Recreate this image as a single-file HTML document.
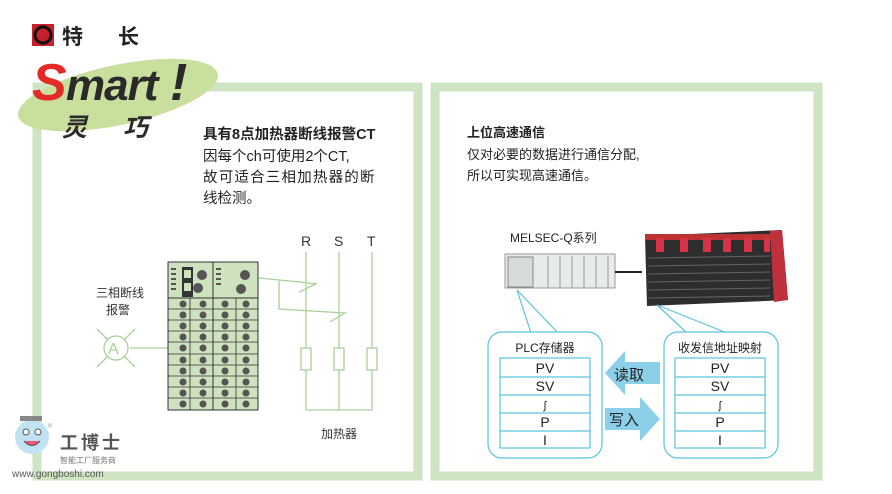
<!DOCTYPE html><html><head><meta charset="utf-8"><style>
body{margin:0;width:892px;height:494px;background:#fff;overflow:hidden;font-family:"Liberation Sans","Noto Sans CJK SC",sans-serif;}
svg{position:absolute;left:0;top:0}
</style></head><body>
<svg width="892" height="494" viewBox="0 0 892 494" font-family="Liberation Sans, Noto Sans CJK SC, sans-serif">
<rect x="37" y="87" width="381" height="389" fill="none" stroke="#cfe4c3" stroke-width="9"/>
<rect x="435" y="87" width="383" height="389" fill="none" stroke="#cfe4c3" stroke-width="9"/>
<rect x="32" y="24" width="22" height="22" fill="#c8202a"/>
<circle cx="43" cy="35" r="8" fill="none" stroke="#111" stroke-width="3"/>
<text x="62" y="44" font-size="21" font-weight="bold" fill="#222">特</text>
<text x="118" y="44" font-size="21" font-weight="bold" fill="#222">长</text>
<ellipse cx="118" cy="95" rx="102" ry="30" transform="rotate(-12 118 95)" fill="#c9df9e"/>
<text x="32" y="100" font-size="52" font-weight="bold" font-style="italic" fill="#e32a26" letter-spacing="-2">S</text>
<text x="66" y="100" font-size="44" font-weight="bold" font-style="italic" fill="#2a2a2a" letter-spacing="-1">mart</text>
<text x="170" y="100" font-size="52" font-weight="bold" font-style="italic" fill="#2a2a2a">!</text>
<text x="62" y="136" font-size="25" font-weight="bold" font-style="italic" fill="#2a2a2a">灵</text>
<text x="123" y="136" font-size="25" font-weight="bold" font-style="italic" fill="#2a2a2a">巧</text>
<text x="203" y="139" font-size="14.5" font-weight="bold" fill="#222">具有8点加热器断线报警CT</text>
<text x="203" y="161" font-size="14.5" fill="#222">因每个ch可使用2个CT,</text>
<text x="203" y="182" font-size="14.5" fill="#222" letter-spacing="1.2">故可适合三相加热器的断</text>
<text x="203" y="203" font-size="14.5" fill="#222">线检测。</text>
<g font-size="14" fill="#333"><text x="301" y="246">R</text><text x="334" y="246">S</text><text x="367" y="246">T</text></g>
<g stroke="#a9d09a" stroke-width="1.3" fill="none">
<line x1="306" y1="252" x2="306" y2="410"/><line x1="339" y1="252" x2="339" y2="410"/><line x1="372" y1="252" x2="372" y2="410"/>
<line x1="306" y1="410" x2="372" y2="410"/>
<rect x="301" y="348" width="10" height="22" fill="#fff"/><rect x="334" y="348" width="10" height="22" fill="#fff"/><rect x="367" y="348" width="10" height="22" fill="#fff"/>
<polyline points="258,278 300,282 316,284 299,292"/>
<polyline points="279,281 279,309 345,313 330,322"/>
<line x1="130" y1="348" x2="168" y2="348"/>
<circle cx="116" cy="348" r="12" fill="#fff"/>
<line x1="97" y1="329" x2="107" y2="339"/><line x1="135" y1="329" x2="125" y2="339"/><line x1="97" y1="367" x2="107" y2="357"/><line x1="135" y1="367" x2="125" y2="357"/>
</g>
<text x="108" y="354" font-size="16" fill="#a9d09a">A</text>
<text x="96" y="297" font-size="12" fill="#333">三相断线</text>
<text x="106" y="314" font-size="12" fill="#333">报警</text>
<text x="321" y="438" font-size="12" fill="#333">加热器</text>
<rect x="168" y="262" width="90" height="148" fill="#cfe2c0" stroke="#333"/>
<line x1="213" y1="262" x2="213" y2="410" stroke="#333"/>
<line x1="168" y1="298" x2="258" y2="298" stroke="#333"/>
<rect x="182" y="267" width="11" height="30" fill="#333"/>
<g fill="#cfe2c0"><rect x="184" y="270" width="7" height="8"/><rect x="184" y="283" width="7" height="8"/></g>
<g fill="#555"><circle cx="202" cy="275" r="5"/><circle cx="198" cy="288" r="5"/><circle cx="245" cy="275" r="5"/><circle cx="241" cy="289" r="5"/>
<rect x="171" y="268" width="5" height="2"/><rect x="171" y="273" width="5" height="2"/><rect x="171" y="278" width="5" height="2"/><rect x="171" y="283" width="5" height="2"/><rect x="171" y="288" width="5" height="2"/>
<rect x="216" y="268" width="5" height="2"/><rect x="216" y="273" width="5" height="2"/><rect x="216" y="278" width="5" height="2"/><rect x="216" y="283" width="5" height="2"/></g>
<g stroke="#333" stroke-width="0.8">
<line x1="168" y1="309" x2="258" y2="309"/><line x1="168" y1="320" x2="258" y2="320"/><line x1="168" y1="331" x2="258" y2="331"/><line x1="168" y1="342" x2="258" y2="342"/><line x1="168" y1="354" x2="258" y2="354"/><line x1="168" y1="365" x2="258" y2="365"/><line x1="168" y1="376" x2="258" y2="376"/><line x1="168" y1="387" x2="258" y2="387"/><line x1="168" y1="398" x2="258" y2="398"/>
<line x1="190" y1="298" x2="190" y2="410"/><line x1="236" y1="298" x2="236" y2="410"/>
</g>
<g fill="#555">
<circle cx="183" cy="304" r="3.5"/><circle cx="203" cy="304" r="3.5"/><circle cx="225" cy="304" r="3.5"/><circle cx="246" cy="304" r="3.5"/>
<circle cx="183" cy="315" r="3.5"/><circle cx="203" cy="315" r="3.5"/><circle cx="225" cy="315" r="3.5"/><circle cx="246" cy="315" r="3.5"/>
<circle cx="183" cy="326" r="3.5"/><circle cx="203" cy="326" r="3.5"/><circle cx="225" cy="326" r="3.5"/><circle cx="246" cy="326" r="3.5"/>
<circle cx="183" cy="337" r="3.5"/><circle cx="203" cy="337" r="3.5"/><circle cx="225" cy="337" r="3.5"/><circle cx="246" cy="337" r="3.5"/>
<circle cx="183" cy="348" r="3.5"/><circle cx="203" cy="348" r="3.5"/><circle cx="225" cy="348" r="3.5"/><circle cx="246" cy="348" r="3.5"/>
<circle cx="183" cy="360" r="3.5"/><circle cx="203" cy="360" r="3.5"/><circle cx="225" cy="360" r="3.5"/><circle cx="246" cy="360" r="3.5"/>
<circle cx="183" cy="371" r="3.5"/><circle cx="203" cy="371" r="3.5"/><circle cx="225" cy="371" r="3.5"/><circle cx="246" cy="371" r="3.5"/>
<circle cx="183" cy="382" r="3.5"/><circle cx="203" cy="382" r="3.5"/><circle cx="225" cy="382" r="3.5"/><circle cx="246" cy="382" r="3.5"/>
<circle cx="183" cy="393" r="3.5"/><circle cx="203" cy="393" r="3.5"/><circle cx="225" cy="393" r="3.5"/><circle cx="246" cy="393" r="3.5"/>
<circle cx="183" cy="404" r="3.5"/><circle cx="203" cy="404" r="3.5"/><circle cx="225" cy="404" r="3.5"/><circle cx="246" cy="404" r="3.5"/>
</g>
<circle cx="32" cy="437" r="17" fill="#bfe3f2"/>
<circle cx="26" cy="432" r="3" fill="#fff" stroke="#555"/><circle cx="38" cy="432" r="3" fill="#fff" stroke="#555"/>
<path d="M24 441 Q32 450 40 441" fill="#e57" stroke="#555"/>
<rect x="20" y="416" width="22" height="5" fill="#888"/>
<text x="48" y="428" font-size="6" fill="#999">®</text>
<text x="60" y="449" font-size="18" font-weight="bold" fill="#555" letter-spacing="3">工博士</text>
<text x="60" y="463" font-size="8" fill="#777">智能工厂服务商</text>
<text x="12" y="477" font-size="10" fill="#555">www.gongboshi.com</text>
<text x="467" y="137" font-size="13" font-weight="bold" fill="#222">上位高速通信</text>
<text x="467" y="159" font-size="13" fill="#222">仅对必要的数据进行通信分配,</text>
<text x="467" y="180" font-size="13" fill="#222">所以可实现高速通信。</text>
<text x="510" y="242" font-size="12" fill="#222">MELSEC-Q系列</text>
<rect x="505" y="254" width="110" height="34" fill="#e8ece8" stroke="#999"/>
<rect x="508" y="257" width="25" height="30" fill="#d8dcd8" stroke="#888"/>
<g stroke="#999"><line x1="548" y1="256" x2="548" y2="288"/><line x1="560" y1="256" x2="560" y2="288"/><line x1="572" y1="256" x2="572" y2="288"/><line x1="584" y1="256" x2="584" y2="288"/><line x1="596" y1="256" x2="596" y2="288"/><line x1="608" y1="256" x2="608" y2="288"/></g>
<line x1="615" y1="272" x2="642" y2="272" stroke="#222" stroke-width="2"/>
<polygon points="645,236 782,230 788,300 647,306" fill="#2e2e2e"/>
<polygon points="770,231 782,230 788,300 774,302" fill="#c0303c"/>
<rect x="645" y="234" width="128" height="6" fill="#b33"/>
<g fill="#d8324a"><rect x="656" y="238" width="8" height="14"/><rect x="680" y="238" width="8" height="14"/><rect x="703" y="238" width="8" height="14"/><rect x="723" y="238" width="8" height="14"/><rect x="744" y="238" width="8" height="14"/><rect x="764" y="238" width="6" height="14"/></g>
<g stroke="#666" stroke-width="1"><line x1="648" y1="258" x2="770" y2="256"/><line x1="648" y1="266" x2="770" y2="264"/><line x1="648" y1="274" x2="770" y2="272"/><line x1="648" y1="282" x2="770" y2="280"/><line x1="648" y1="290" x2="770" y2="288"/><line x1="648" y1="298" x2="770" y2="296"/></g>
<g stroke="#5bc4dc" stroke-width="1.2" fill="#fff">
<line x1="517" y1="290" x2="531" y2="333"/><line x1="517" y1="290" x2="558" y2="333"/>
<line x1="657" y1="305" x2="687" y2="333"/><line x1="657" y1="305" x2="727" y2="333"/>
<rect x="488" y="332" width="114" height="126" rx="14"/>
<rect x="664" y="332" width="114" height="126" rx="14"/>
</g>
<g stroke="#5bc4dc" stroke-width="1.2" fill="none">
<rect x="500" y="358" width="90" height="90"/><line x1="500" y1="377" x2="590" y2="377"/><line x1="500" y1="395" x2="590" y2="395"/><line x1="500" y1="413" x2="590" y2="413"/><line x1="500" y1="431" x2="590" y2="431"/>
<rect x="675" y="358" width="90" height="90"/><line x1="675" y1="377" x2="765" y2="377"/><line x1="675" y1="395" x2="765" y2="395"/><line x1="675" y1="413" x2="765" y2="413"/><line x1="675" y1="431" x2="765" y2="431"/>
</g>
<text x="545" y="352" font-size="12" text-anchor="middle" fill="#222">PLC存储器</text>
<text x="720" y="352" font-size="12" text-anchor="middle" fill="#222">收发信地址映射</text>
<g font-size="14" text-anchor="middle" fill="#222">
<text x="545" y="373">PV</text><text x="545" y="391">SV</text><text x="545" y="409" font-size="11">∫</text><text x="545" y="427">P</text><text x="545" y="445">I</text>
<text x="720" y="373">PV</text><text x="720" y="391">SV</text><text x="720" y="409" font-size="11">∫</text><text x="720" y="427">P</text><text x="720" y="445">I</text>
</g>
<polygon points="605,373 625,351 625,362 660,362 660,384 625,384 625,395" fill="#8ccfe8"/>
<polygon points="660,419 640,397 640,408 605,408 605,430 640,430 640,441" fill="#8ccfe8"/>
<text x="614" y="380" font-size="15" fill="#222">读取</text>
<text x="609" y="425" font-size="15" fill="#222">写入</text>
</svg>
</body></html>
